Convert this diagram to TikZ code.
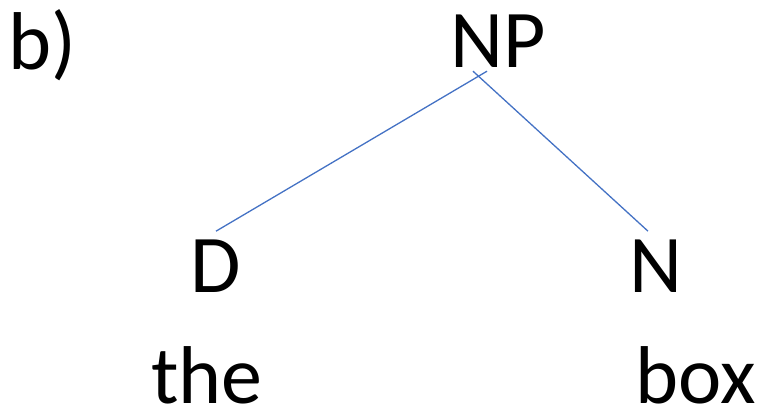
\documentclass[tikz,border=0pt]{standalone}
\usepackage{fontspec}
\setmainfont{Carlito}
\usetikzlibrary{positioning}
\definecolor{branchblue}{HTML}{4472C4}
\tikzset{
  % ---- tree labels ----------------------------------------------------
  tlabel/.style={inner sep=0pt, anchor=base,
    font=\fontsize{82}{98}\selectfont},
  % ---- branches -------------------------------------------------------
  branch/.style={draw=branchblue, line width=1.3pt},
}
\begin{document}
\begin{tikzpicture}[x=1pt, y=1pt]
\useasboundingbox (0,0) rectangle (765,-411);

% ---- panel tag --------------------------------------------------------
\node[tlabel, anchor=base west] (tag) at (8,-70) {b)};

% ---- phrase and heads -------------------------------------------------
\node[tlabel] (np)  at (498,-68)  {NP};
\node[tlabel] (det) at (216,-293) {D};
\node[tlabel] (noun) at (656,-293) {N};

% ---- words ------------------------------------------------------------
\node[tlabel] (the) at (207,-403) {the};
\node[tlabel] (box) at (696,-403) {box};

% ---- branches ---------------------------------------------------------
\draw[branch] ([xshift=-11pt, yshift=-3pt]np.south) -- ([yshift=9pt]det.north);
\draw[branch] ([xshift=-25pt, yshift=-3pt]np.south) -- ([xshift=-8pt, yshift=9pt]noun.north);

\end{tikzpicture}
\end{document}
